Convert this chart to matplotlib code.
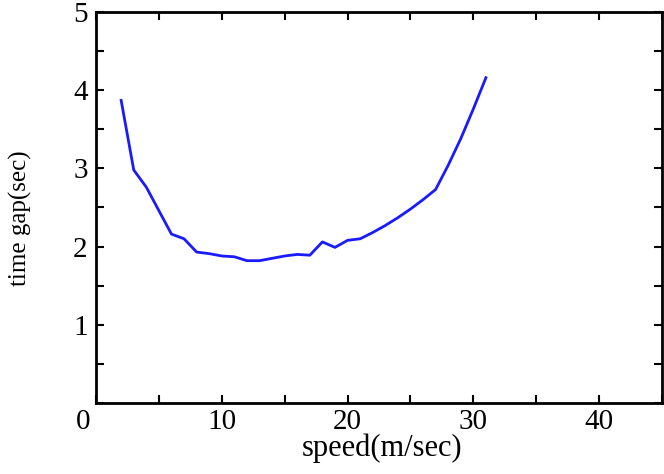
import numpy as np
import matplotlib
matplotlib.use("Agg")
import matplotlib.pyplot as plt
from matplotlib.ticker import MultipleLocator

plt.rcParams['font.family'] = ['Liberation Serif', 'DejaVu Serif']

# speed (m/sec) vs time gap (sec)
speed = [2, 3, 4, 5, 6, 7, 8, 9, 10, 11, 12, 13, 14, 15, 16, 17, 18, 19, 20,
         21, 22, 23, 24, 25, 26, 27, 28, 29, 30, 31]
time_gap = [3.87, 2.98, 2.76, 2.46, 2.16, 2.10, 1.93, 1.91, 1.88, 1.87, 1.82,
            1.82, 1.85, 1.88, 1.90, 1.89, 2.06, 1.99, 2.08, 2.10, 2.18, 2.27,
            2.37, 2.48, 2.60, 2.73, 3.04, 3.38, 3.76, 4.16]

x_ticks = [10, 20, 30, 40]
y_ticks = [1, 2, 3, 4, 5]

fig = plt.figure(figsize=(6.64, 4.74), dpi=100)
ax = fig.add_axes([96/664, 71/474, 566/664, 391/474])

ax.plot(speed, time_gap, color='#1a1aff', linewidth=2.0)

ax.set_xlim(0, 45)
ax.set_ylim(0, 5)
ax.set_xticks(x_ticks)
ax.set_yticks(y_ticks)
ax.xaxis.set_minor_locator(MultipleLocator(5))
ax.yaxis.set_minor_locator(MultipleLocator(0.5))
ax.tick_params(which='both', direction='in', top=True, right=True,
               length=6, width=1.5)
ax.tick_params(axis='x', pad=4, labelsize=21)
ax.tick_params(axis='y', pad=6, labelsize=21)
for s in ax.spines.values():
    s.set_linewidth(2)

ax.text(-0.023, -0.049, "0", transform=ax.transAxes, fontsize=21,
        ha='center', va='center')

ax.set_xlabel("speed(m/sec)", fontsize=22)
ax.set_ylabel("time gap(sec)", fontsize=18)
ax.xaxis.set_label_coords(0.505, -0.077)
ax.yaxis.set_label_coords(-0.113, 0.473)

fig.savefig("out.png", dpi=100)
